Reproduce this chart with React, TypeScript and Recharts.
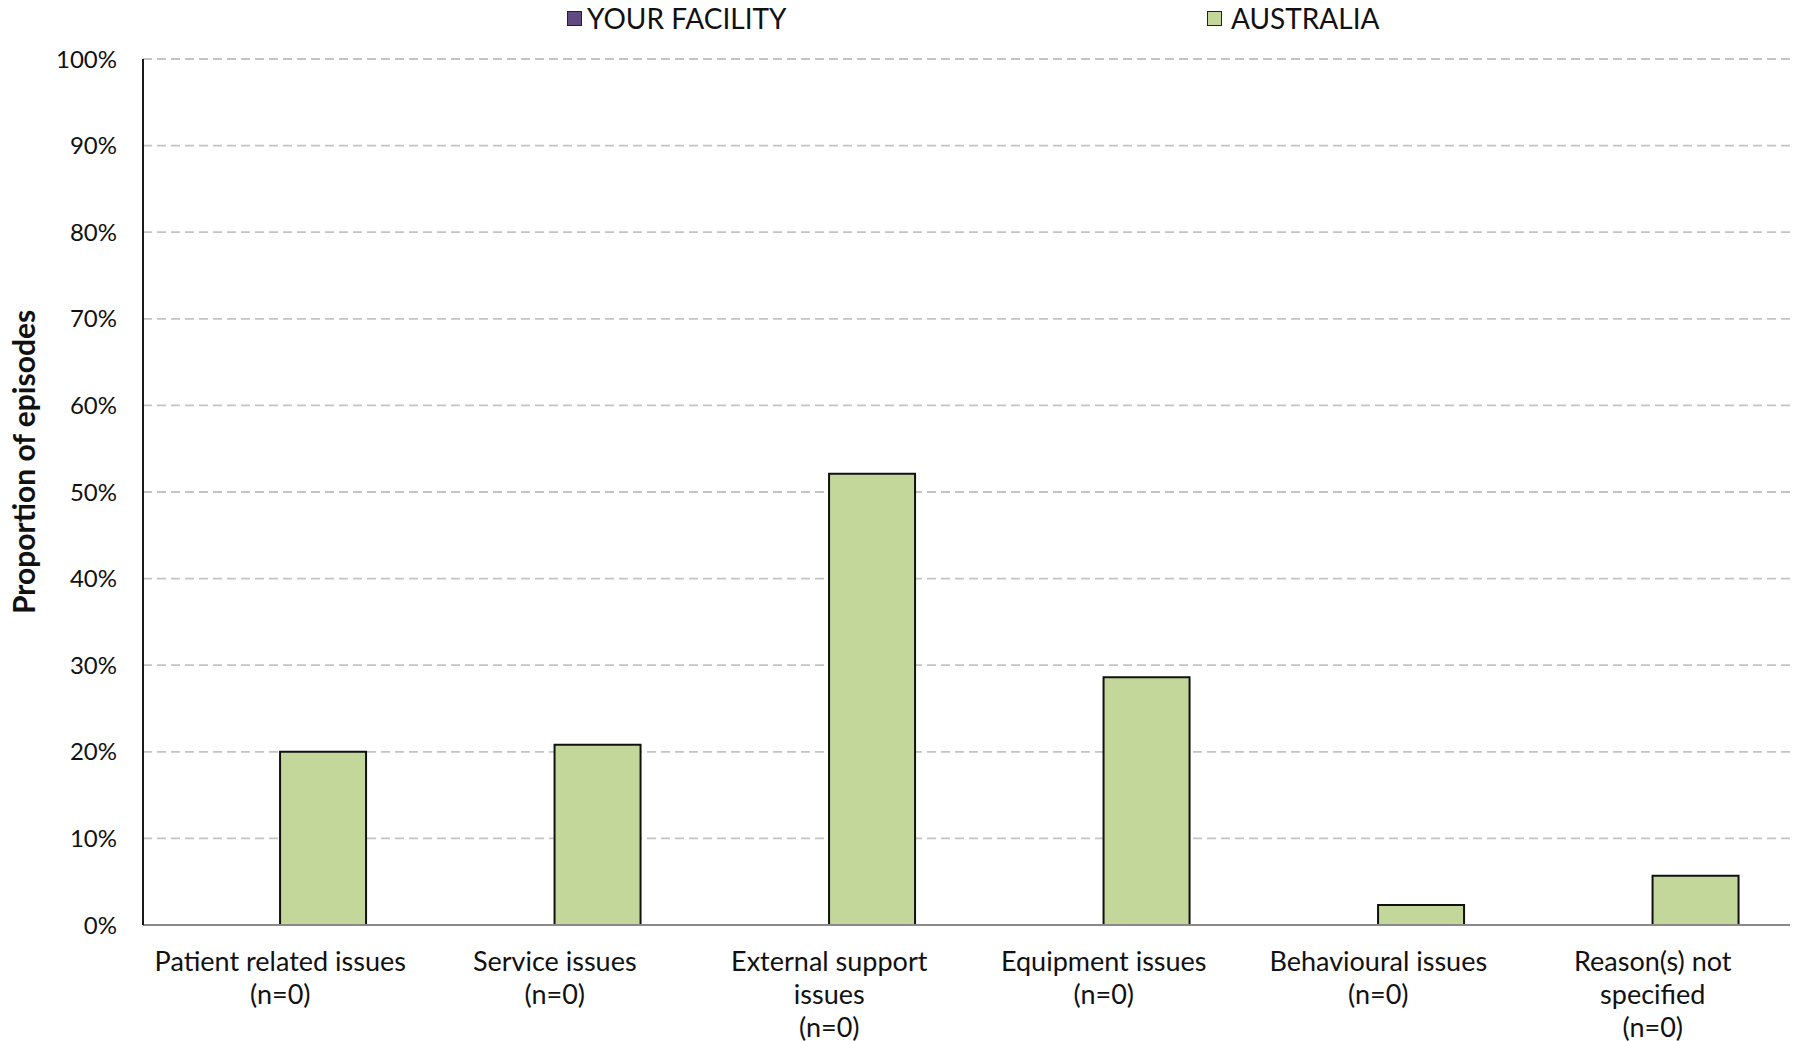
import React from "react";
import { BarChart, Bar, XAxis, YAxis, CartesianGrid } from "recharts";

const categories = [
  "Patient related issues\n(n=0)",
  "Service issues\n(n=0)",
  "External support\nissues\n(n=0)",
  "Equipment issues\n(n=0)",
  "Behavioural issues\n(n=0)",
  "Reason(s) not\nspecified\n(n=0)",
];
const facilityValues = [0, 0, 0, 0, 0, 0];
const australiaValues = [20.0, 20.8, 52.1, 28.6, 2.3, 5.7];
const yTicks = [0, 10, 20, 30, 40, 50, 60, 70, 80, 90, 100];
const seriesNames = ["YOUR FACILITY", "AUSTRALIA"];
const seriesColors = ["#5f4b82", "#c4d79b"];

const data = categories.map((c, i) => ({
  name: c,
  facility: facilityValues[i],
  australia: australiaValues[i],
}));

const FONT = "Lato, 'Open Sans', sans-serif";

const XTick = (props: any) => {
  const { x, y, payload } = props;
  const lines = String(payload.value).split("\n");
  return (
    <g transform={`translate(${x},${y})`}>
      {lines.map((l: string, i: number) => (
        <text
          key={i}
          x={0}
          y={27 + i * 33}
          textAnchor="middle"
          dominantBaseline="central"
          fontFamily={FONT}
          fontSize={27}
          fill="#111"
        >
          {l}
        </text>
      ))}
    </g>
  );
};

const legendPos = [
  { marker: 567, text: 587 },
  { marker: 1207, text: 1231 },
];

const LegendOverlay = () => (
  <div style={{ position: "absolute", left: 0, top: 0, width: 1796, height: 40 }}>
    {seriesNames.map((n, i) => (
      <div key={i}>
        <div
          style={{
            position: "absolute",
            left: legendPos[i].marker,
            top: 11,
            width: 15,
            height: 15,
            background: seriesColors[i],
            border: "1.5px solid #222",
            boxSizing: "border-box",
          }}
        />
        <div
          style={{
            position: "absolute",
            left: legendPos[i].text,
            top: 1,
            fontFamily: FONT,
            fontSize: 28,
            lineHeight: "34px",
            color: "#111",
            whiteSpace: "nowrap",
          }}
        >
          {n}
        </div>
      </div>
    ))}
  </div>
);

export default function App() {
  return (
    <div style={{ position: "absolute", left: 0, top: 0, width: 1796, height: 1041, background: "#fff" }}>
      <BarChart
        width={1796}
        height={1041}
        data={data}
        margin={{ top: 59, right: 6, bottom: 0, left: 0 }}
        barCategoryGap="18.6%"
        barGap={0}
      >
        <CartesianGrid
          vertical={false}
          stroke="#c4c4c4"
          strokeWidth={1.8}
          strokeDasharray="9 5"
        />
        <XAxis
          dataKey="name"
          height={116}
          interval={0}
          tick={<XTick />}
          tickLine={false}
          axisLine={{ stroke: "#8a8a8a", strokeWidth: 2 }}
        />
        <YAxis
          width={143}
          domain={[0, 100]}
          ticks={yTicks}
          interval={0}
          tickFormatter={(v: number) => `${v}%`}
          tickLine={false}
          tickSize={0}
          tickMargin={26}
          axisLine={{ stroke: "#1a1a1a", strokeWidth: 2 }}
          tick={{ fontFamily: FONT, fontSize: 24, fill: "#111" }}
          label={{
            content: () => (
              <text
                x={23}
                y={462}
                transform="rotate(-90 23 462)"
                textAnchor="middle"
                dominantBaseline="central"
                fontFamily={FONT}
                fontSize={30}
                fontWeight="bold"
                fill="#111"
              >
                Proportion of episodes
              </text>
            ),
          }}
        />
        <Bar
          dataKey="facility"
          name={seriesNames[0]}
          fill={seriesColors[0]}
          stroke="none"
          isAnimationActive={false}
        />
        <Bar
          dataKey="australia"
          name={seriesNames[1]}
          fill={seriesColors[1]}
          stroke="#111"
          strokeWidth={2}
          isAnimationActive={false}
        />
      </BarChart>
      <LegendOverlay />
    </div>
  );
}
